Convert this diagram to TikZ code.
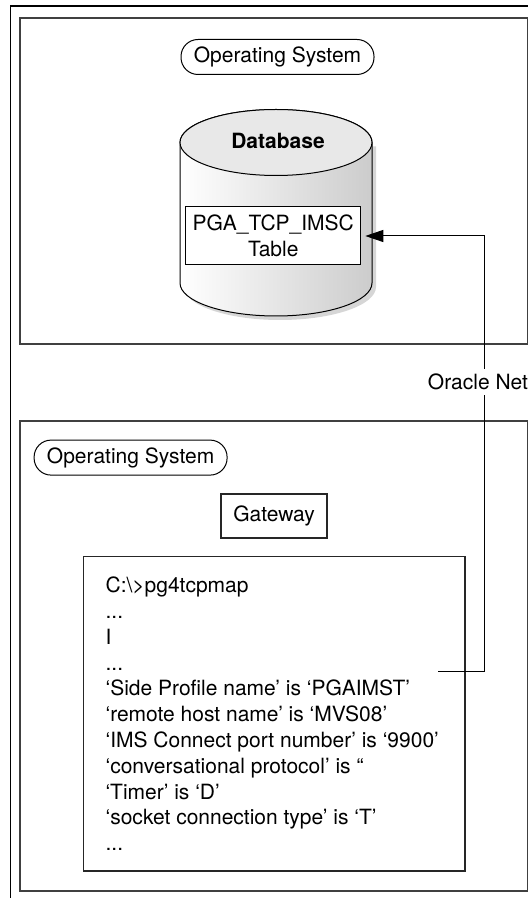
\documentclass[tikz,border=0pt]{standalone}
\usepackage{fontspec}
\setsansfont{TeX Gyre Heros}
\usetikzlibrary{arrows.meta}
\newcommand{\skipped}{...}
\tikzset{
  lbl/.style = {font=\sffamily\fontsize{21}{25.8}\selectfont, inner sep=0pt},
  sysbox/.style = {draw=black!75, line width=1.5pt},% host box
  os/.style = {lbl, draw=black, line width=1pt, rounded corners=17pt,
    minimum width=193pt, minimum height=35pt},% os pill
  tbl/.style = {lbl, draw=black, line width=1pt, fill=white, align=center,
    minimum width=175pt, minimum height=58pt},% table box
  gw/.style = {lbl, draw=black!85, line width=1.2pt,
    minimum width=106pt, minimum height=44pt},
  cfg/.style = {draw=black!85, line width=1.2pt, fill=white,
    minimum width=381.5pt, minimum height=314.4pt},% listing box
  netlbl/.style = {lbl, fill=white, inner ysep=5pt}
}
\begin{document}
\begin{tikzpicture}[x=1pt,y=1pt,>={Triangle[length=18pt,width=12pt]}]
\useasboundingbox (0,0) rectangle (528,898);
% outer frame
\draw[line width=1.3pt] (528,892) -- (10.7,892) -- (10.7,0);
% database host
\draw[sysbox] (20,554) rectangle (527.5,880);
\node[os] (os1) at (277.5,841) {Operating System};
\fill[gray!40, opacity=.8, shift={(4,-4)}] (180,755.5) -- (180,615)
  arc[start angle=180, end angle=360, x radius=96pt, y radius=33pt]
  -- (372,755.5) -- cycle;
\draw[line width=1pt, left color=white, right color=gray!40] (180,755.5) -- (180,615)
  arc[start angle=180, end angle=360, x radius=96pt, y radius=33pt]
  -- (372,755.5)
  arc[start angle=0, end angle=180, x radius=96pt, y radius=33pt] -- cycle;
\draw[line width=1pt, fill=gray!18] (276,755.5) ellipse [x radius=96pt, y radius=33pt];
\node[lbl, font=\sffamily\bfseries\fontsize{21}{25.8}\selectfont] (db) at (278,757) {Database};
\node[tbl] (tbl) at (273.3,662) {PGA\_TCP\_IMSC\\Table};
% gateway host
\draw[sysbox] (20,7) rectangle (527.5,477);
\node[os] (os2) at (130.6,440.4) {Operating System};
\node[gw] (gw) at (274,382) {Gateway};
\node[cfg] (cfg) at (274.25,184.2) {};
\foreach \txt [count=\i from 0] in {{C:\textbackslash>pg4tcpmap}, {\skipped}, {I}, {\skipped},
    {‘Side Profile name’ is ‘PGAIMST’}, {‘remote host name’ is ‘MVS08’},
    {‘IMS Connect port number’ is ‘9900’}, {‘conversational protocol’ is “},
    {‘Timer’ is ‘D’}, {‘socket connection type’ is ‘T’}, {\skipped}}
  \node[lbl, anchor=base west] (ln\i) at (105.4,305.3-25.8*\i) {\txt};
\coordinate (cfgend) at (438,226);
\draw[->, line width=1pt, shorten >=4pt] (cfgend) -- ++(46,0)
  |- node[netlbl, pos=.333, xshift=-6pt] {Oracle Net} (tbl.east);
\end{tikzpicture}
\end{document}
